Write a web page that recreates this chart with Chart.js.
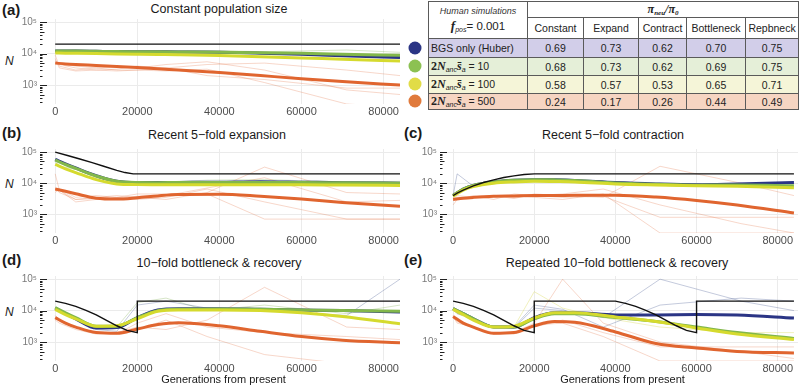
<!DOCTYPE html>
<html>
<head>
<meta charset="utf-8">
<script src="https://cdn.jsdelivr.net/npm/chart.js@4.4.1/dist/chart.umd.min.js"></script>
<style>
  body { margin: 0; width: 800px; height: 390px; position: relative; overflow: hidden; background: #fff;
         font-family: "Liberation Sans", Arial, sans-serif; color: #1a1a1a; }
  canvas { position: absolute; }
  .tag { position: absolute; font-weight: bold; font-size: 15px; }
  .ttl { position: absolute; font-size: 12.5px; white-space: nowrap; transform: translate(-50%, -50%); }
  .ylab { position: absolute; font-style: italic; font-size: 12px; transform: translateY(-50%); }
  .dot { position: absolute; width: 13px; height: 13px; border-radius: 50%; transform: translate(-50%, -50%); }
  table { position: absolute; left: 428px; top: 1px; width: 370px; border-collapse: collapse; table-layout: fixed;
          font-size: 10.5px; color: #222; }
  td { border: 1px solid #5a5a5a; padding: 0; text-align: center; vertical-align: middle; }
  td.rl { text-align: left; padding-left: 2px; }
  .serif { font-family: "Liberation Serif", "Times New Roman", serif; font-weight: bold; }
  sub { font-size: 7px; font-style: italic; vertical-align: -2px; }
</style>
</head>
<body>
<div class="tag" style="left:2px;top:1px">(a)</div>
<div class="tag" style="left:2px;top:124px">(b)</div>
<div class="tag" style="left:404px;top:124px">(c)</div>
<div class="tag" style="left:2px;top:251px">(d)</div>
<div class="tag" style="left:404px;top:251px">(e)</div>

<div class="ttl" style="left:219px;top:9px">Constant population size</div>
<div class="ttl" style="left:217px;top:135px">Recent 5−fold expansion</div>
<div class="ttl" style="left:613px;top:135px">Recent 5−fold contraction</div>
<div class="ttl" style="left:219px;top:263px">10−fold bottleneck &amp; recovery</div>
<div class="ttl" style="left:617px;top:263px">Repeated 10−fold bottleneck &amp; recovery</div>

<div class="ylab" style="left:5px;top:61px">N</div>
<div class="ylab" style="left:5px;top:184px">N</div>
<div class="ylab" style="left:5px;top:312px">N</div>

<canvas id="pa" width="400" height="122" style="left:0;top:0"></canvas>
<canvas id="pb" width="400" height="121" style="left:0;top:130px"></canvas>
<canvas id="pc" width="400" height="121" style="left:400px;top:130px"></canvas>
<canvas id="pd" width="400" height="133" style="left:0;top:257px"></canvas>
<canvas id="pe" width="400" height="133" style="left:400px;top:257px"></canvas>

<div class="dot" style="left:415px;top:48px;background:#2b3585"></div>
<div class="dot" style="left:415px;top:66px;background:#8cc152"></div>
<div class="dot" style="left:415px;top:84px;background:#e1dc47"></div>
<div class="dot" style="left:415px;top:101px;background:#e07a3c"></div>

<table>
  <colgroup><col style="width:99px"><col style="width:56px"><col style="width:55px"><col style="width:48px"><col style="width:59px"><col style="width:53px"></colgroup>
  <tr style="height:16px">
    <td rowspan="2"><div style="font-style:italic;font-size:9px;color:#333">Human simulations</div>
      <div style="margin-top:2px"><span class="serif" style="font-style:italic;font-size:13px">f</span><sub>pos</sub><span style="font-size:11.5px">= 0.001</span></div></td>
    <td colspan="5"><span class="serif" style="font-style:italic;font-size:12px">π<sub>neu</sub>/π<sub>0</sub></span></td>
  </tr>
  <tr style="height:21px"><td>Constant</td><td>Expand</td><td>Contract</td><td>Bottleneck</td><td>Repbneck</td></tr>
  <tr style="height:19px;background:#d2cee9"><td class="rl">BGS only (Huber)</td><td>0.69</td><td>0.73</td><td>0.62</td><td>0.70</td><td>0.75</td></tr>
  <tr style="height:18px;background:#e5efd8"><td class="rl"><span class="serif" style="font-size:12px">2<i>N</i></span><sub>anc</sub><span class="serif" style="font-size:12px"><i>s̄</i></span><sub>a</sub> = 10</td><td>0.68</td><td>0.73</td><td>0.62</td><td>0.69</td><td>0.75</td></tr>
  <tr style="height:18px;background:#f5f5d8"><td class="rl"><span class="serif" style="font-size:12px">2<i>N</i></span><sub>anc</sub><span class="serif" style="font-size:12px"><i>s̄</i></span><sub>a</sub> = 100</td><td>0.58</td><td>0.57</td><td>0.53</td><td>0.65</td><td>0.71</td></tr>
  <tr style="height:16px;background:#f6d5c2"><td class="rl"><span class="serif" style="font-size:12px">2<i>N</i></span><sub>anc</sub><span class="serif" style="font-size:12px"><i>s̄</i></span><sub>a</sub> = 500</td><td>0.24</td><td>0.17</td><td>0.26</td><td>0.44</td><td>0.49</td></tr>
</table>

<script>
// generations (x) for the smoothed fits and for the replicate runs
const GENS = [0, 2500, 5000, 10000, 15000, 20000, 25000, 30000, 40000, 50000, 60000, 70000, 84000];
const REP_GENS = [0, 1000, 5000, 10000, 15000, 20000, 27000, 37000, 51000, 71000, 84000];
const X_TICKS = [0, 20000, 40000, 60000, 80000];
const Y_TICKS = [1000, 10000, 100000];
const Y_LABELS = { 1000: '10³', 10000: '10⁴', 100000: '10⁵' };

// (a) constant
const aTrueX = [0, 84000];
const aTrue = [20000, 20000];
const aBgs  = [12000, 12000, 12000, 11800, 11600, 11500, 11400, 11300, 11000, 10300, 9500, 8600, 7500];
const aS10  = [12000, 12000, 12000, 11800, 11600, 11500, 11400, 11300, 11100, 10700, 10200, 9600, 8800];
const aS100 = [10500, 10300, 10200, 10000, 9800, 9600, 9400, 9200, 8700, 8000, 7300, 6600, 5800];
const aS500 = [5000, 4700, 4500, 4200, 3900, 3600, 3300, 3000, 2500, 2000, 1600, 1300, 1000];
const aRepO1 = [9000, 4000, 3000, 3500, 3800, 3500, 4500, 5500, 3000, 700, 500];
const aRepO2 = [6000, 4500, 3500, 3000, 3200, 4000, 3500, 2000, 1500, 800, 800];
const aRepO3 = [5000, 5000, 4000, 3500, 3000, 3000, 3500, 4500, 5000, 3000, 2000];
const aRepO4 = [7000, 3500, 2800, 3000, 2800, 3000, 2800, 3200, 1200, 250, 200];
const aRepG1 = [11000, 12000, 13000, 12500, 12000, 12000, 12000, 12500, 11500, 13000, 11000];

// (b) expansion
const bTrueX = [0, 3000, 6000, 9000, 12000, 15000, 17000, 19000, 84000];
const bTrue = [100000, 78000, 60000, 46000, 34500, 26000, 22000, 20000, 20000];
const bBgs  = [58000, 42000, 31000, 17500, 11500, 10500, 10500, 10600, 10800, 11200, 10800, 10400, 10000];
const bS10  = [55000, 40000, 30000, 17000, 11500, 10500, 10400, 10500, 10500, 10600, 10500, 10300, 10000];
const bS100 = [40000, 29000, 22000, 13000, 9500, 9000, 8900, 9000, 9000, 9000, 8900, 8700, 8500];
const bS500 = [6500, 5500, 4600, 3300, 3100, 3400, 3900, 4300, 4400, 3800, 3100, 2400, 1800];
const bRepO1 = [20000, 6000, 3000, 3500, 4000, 3500, 3000, 5000, 33000, 5000, 4500];
const bRepO2 = [7000, 5000, 3000, 3200, 3500, 3000, 3500, 6500, 2500, 700, 700];
const bRepO3 = [6000, 6000, 2500, 3000, 3300, 3800, 4000, 7000, 15000, 2500, 2800];
const bRepO4 = [5000, 6500, 3500, 4000, 3500, 4500, 4500, 4500, 700, 700, 700];
const bRepG1 = [50000, 35000, 28000, 15000, 11000, 10500, 11000, 12500, 13000, 11000, 11500];

// (c) contraction
const cTrueX = [0, 1000, 2500, 5000, 7500, 10000, 12500, 15000, 17500, 20000, 84000];
const cTrue = [4000, 4800, 6000, 8200, 10500, 12800, 15200, 17200, 19000, 20000, 20000];
const cBgs  = [4000, 6500, 8500, 11000, 12500, 13000, 12800, 12300, 10500, 9500, 9000, 9500, 10500];
const cS10  = [4000, 6500, 8500, 11000, 12500, 13000, 12800, 12300, 10200, 9200, 8600, 8800, 8300];
const cS100 = [3800, 6000, 7800, 10000, 11000, 11500, 11300, 11000, 9500, 8800, 8300, 8000, 7200];
const cS500 = [3000, 3300, 3500, 3800, 3900, 4000, 4000, 4100, 4100, 3600, 2800, 2000, 1100];
const cRepO1 = [3000, 3500, 3300, 4000, 3200, 4500, 4000, 3500, 35000, 10000, 4000];
const cRepO2 = [2000, 3000, 4000, 3000, 4500, 4000, 3500, 3800, 800, 800, 800];
const cRepO3 = [3500, 3000, 3800, 4000, 3500, 4000, 4500, 6500, 2000, 500, 250];
const cRepO4 = [3000, 4000, 3500, 3800, 4000, 3500, 3000, 4500, 250, 250, 250];
const cRepB1 = [4000, 20000, 8000, 11000, 13000, 12500, 12500, 10000, 10000, 9000, 11000];

// (d) bottleneck & recovery
const dTrueX = [0, 2500, 5000, 7500, 10000, 12500, 15000, 17500, 20000, 20000, 84000];
const dTrue = [20000, 17000, 13600, 10200, 7300, 4900, 3300, 2350, 2000, 20000, 20000];
const dBgs  = [12000, 8000, 5500, 2800, 2900, 6000, 10500, 11500, 11500, 11000, 10500, 10000, 9000];
const dS10  = [12500, 8500, 6000, 3200, 3200, 6000, 10000, 11000, 11200, 11000, 10500, 10000, 9500];
const dS100 = [11000, 7500, 5500, 3200, 3300, 5500, 9500, 10500, 10500, 10000, 8500, 6500, 3800];
const dS500 = [6000, 4000, 3000, 2000, 1900, 2600, 3600, 4100, 3300, 2200, 1500, 1150, 950];
const dRepO1 = [7000, 5000, 3000, 2000, 2000, 2500, 5000, 1500, 400, 200, 200];
const dRepO2 = [6000, 4500, 3000, 2000, 1800, 4000, 8000, 3000, 2000, 1500, 1200];
const dRepO3 = [5000, 4000, 2500, 1800, 2000, 3000, 2500, 5000, 55000, 3000, 2500];
const dRepB1 = [11000, 9000, 6000, 2500, 2200, 15000, 20000, 12000, 10000, 7000, 100000];
const dRepG1 = [12000, 9000, 6000, 3200, 3000, 18000, 25000, 10000, 15000, 8000, 15000];

// (e) repeated bottleneck & recovery
const eTrueX = [0, 2500, 5000, 7500, 10000, 12500, 15000, 17500, 20000, 20000,
                40000, 42500, 45000, 47500, 50000, 52500, 55000, 57500, 60000, 60000, 84000];
const eTrue = [20000, 17000, 13600, 10200, 7300, 4900, 3300, 2350, 2000, 20000,
               20000, 17000, 13600, 10200, 7300, 4900, 3300, 2350, 2000, 20000, 20000];
const eBgs  = [11500, 8000, 5500, 3000, 3000, 6000, 8500, 8500, 7300, 7300, 7500, 7200, 5800];
const eS10  = [11500, 8000, 5500, 3000, 3000, 5500, 8000, 8000, 6000, 4500, 3000, 2000, 1300];
const eS100 = [11000, 7500, 5000, 3000, 3200, 5800, 8500, 8500, 6300, 4500, 2800, 1800, 1200];
const eS500 = [6500, 4000, 3000, 1900, 2000, 3300, 4500, 4300, 2100, 900, 650, 500, 450];
const eRepO1 = [7000, 5000, 3000, 1800, 2000, 4000, 100000, 4000, 1000, 500, 300];
const eRepO2 = [6000, 4500, 2800, 1800, 2000, 3000, 5000, 2000, 700, 700, 700];
const eRepO3 = [6500, 4000, 3000, 2000, 1800, 3500, 4000, 1500, 250, 250, 250];
const eRepB1 = [11000, 8000, 5500, 3000, 2800, 12000, 10000, 6000, 100000, 20000, 10000];
const eRepB2 = [12000, 8500, 6000, 3000, 3000, 15000, 11000, 3000, 15000, 25000, 20000];
const eRepY1 = [11000, 8000, 5000, 3000, 3000, 40000, 12000, 6000, 3000, 2000, 2000];

const COL = { bgs: '#2b3585', s10: '#82b74b', s100: '#d5da2e', s500: '#e0652f', truth: '#111111' };
const FAINT = { o: 'rgba(226,112,64,0.28)', b: 'rgba(60,80,140,0.3)', g: 'rgba(120,170,70,0.3)', y: 'rgba(215,215,70,0.35)' };

const pts = (xs, ys) => xs.map((x, i) => ({ x, y: ys[i] }));

// annotation_logticks-style marks next to the y axis, placed by the scale
const logTicks = {
  id: 'logTicks',
  afterDraw(chart) {
    const y = chart.scales.y, ctx = chart.ctx, x0 = chart.chartArea.left - 7;
    ctx.save();
    ctx.strokeStyle = '#222';
    ctx.lineWidth = 1;
    for (let d = 100; d <= 100000; d *= 10) {
      for (let k = 1; k < 10; k++) {
        const v = k * d;
        if (v < y.min || v > y.max) continue;
        const py = Math.round(y.getPixelForValue(v)) + 0.5;
        const len = k === 1 ? 7 : k === 5 ? 4.5 : 2.5;
        ctx.beginPath();
        ctx.moveTo(x0, py);
        ctx.lineTo(x0 + len, py);
        ctx.stroke();
      }
    }
    ctx.restore();
  }
};

function panel(id, p) {
  const datasets = [
    { data: pts(p.truthX, p.truth), borderColor: COL.truth, borderWidth: 1.4, tension: 0 },
    { data: pts(GENS, p.s500), borderColor: COL.s500, borderWidth: 3, cubicInterpolationMode: 'monotone' },
    { data: pts(GENS, p.s100), borderColor: COL.s100, borderWidth: 3, cubicInterpolationMode: 'monotone' },
    { data: pts(GENS, p.s10), borderColor: COL.s10, borderWidth: 3, cubicInterpolationMode: 'monotone' },
    { data: pts(GENS, p.bgs), borderColor: COL.bgs, borderWidth: 3, cubicInterpolationMode: 'monotone' }
  ];
  p.reps.forEach(([vals, c]) => datasets.push({ data: pts(REP_GENS, vals), borderColor: FAINT[c], borderWidth: 1, tension: 0 }));

  new Chart(document.getElementById(id), {
    type: 'line',
    data: { datasets },
    plugins: [logTicks],
    options: {
      responsive: false, animation: false, devicePixelRatio: 1,
      layout: { padding: { top: 19, right: p.right, left: 0, bottom: 0 } },
      elements: { point: { radius: 0 } },
      plugins: { legend: { display: false }, tooltip: { enabled: false } },
      scales: {
        x: {
          type: 'linear', min: p.xmin, max: p.xmax,
          afterBuildTicks: s => { s.ticks = X_TICKS.map(v => ({ value: v })); },
          afterFit: s => { s.height = p.xh; },
          grid: { color: '#ebebeb', drawTicks: false },
          border: { display: false },
          ticks: { padding: 1, autoSkip: false, maxRotation: 0, color: '#4d4d4d',
                   font: { family: 'Liberation Sans', size: 11 }, callback: v => String(v) },
          title: { display: p.xtitle, text: 'Generations from present', color: '#1a1a1a',
                   padding: { top: 0, bottom: 3 }, font: { family: 'Liberation Sans', size: 11 } }
        },
        y: {
          type: 'logarithmic', min: 250, max: 126000,
          afterBuildTicks: s => { s.ticks = Y_TICKS.map(v => ({ value: v })); },
          afterFit: s => { s.width = 47; },
          grid: { color: '#ebebeb', drawTicks: false },
          border: { display: false },
          ticks: { padding: 10, color: '#7a7a7a', font: { family: 'Liberation Sans', size: 10 },
                   callback: v => Y_LABELS[v] || '' }
        }
      }
    }
  });
}

panel('pa', { truthX: aTrueX, truth: aTrue, bgs: aBgs, s10: aS10, s100: aS100, s500: aS500,
  reps: [[aRepO1, 'o'], [aRepO2, 'o'], [aRepO3, 'o'], [aRepO4, 'o'], [aRepG1, 'g']],
  xmin: -2000, xmax: 84000, right: 0, xh: 18, xtitle: false });
panel('pb', { truthX: bTrueX, truth: bTrue, bgs: bBgs, s10: bS10, s100: bS100, s500: bS500,
  reps: [[bRepO1, 'o'], [bRepO2, 'o'], [bRepO3, 'o'], [bRepO4, 'o'], [bRepG1, 'g']],
  xmin: -2000, xmax: 84000, right: 0, xh: 18, xtitle: false });
panel('pc', { truthX: cTrueX, truth: cTrue, bgs: cBgs, s10: cS10, s100: cS100, s500: cS500,
  reps: [[cRepO1, 'o'], [cRepO2, 'o'], [cRepO3, 'o'], [cRepO4, 'o'], [cRepB1, 'b']],
  xmin: -1500, xmax: 85000, right: 2, xh: 18, xtitle: false });
panel('pd', { truthX: dTrueX, truth: dTrue, bgs: dBgs, s10: dS10, s100: dS100, s500: dS500,
  reps: [[dRepO1, 'o'], [dRepO2, 'o'], [dRepO3, 'o'], [dRepB1, 'b'], [dRepG1, 'g']],
  xmin: -2000, xmax: 84000, right: 0, xh: 29, xtitle: true });
panel('pe', { truthX: eTrueX, truth: eTrue, bgs: eBgs, s10: eS10, s100: eS100, s500: eS500,
  reps: [[eRepO1, 'o'], [eRepO2, 'o'], [eRepO3, 'o'], [eRepB1, 'b'], [eRepB2, 'b'], [eRepY1, 'y']],
  xmin: -1500, xmax: 85000, right: 2, xh: 29, xtitle: true });
</script>
</body>
</html>
